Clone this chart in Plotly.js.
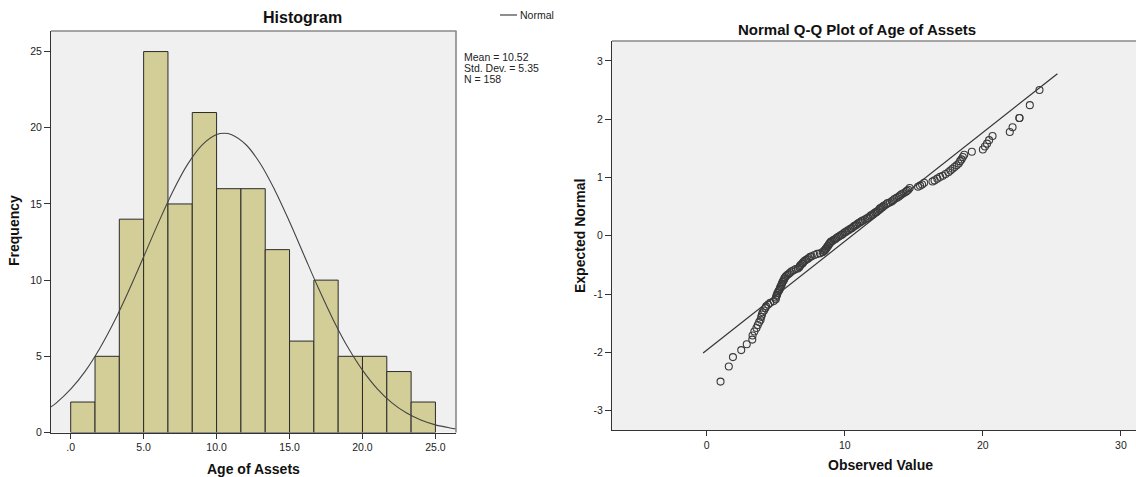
<!DOCTYPE html>
<html><head><meta charset="utf-8">
<script src="https://cdn.plot.ly/plotly-3.0.1.min.js"></script>
<style>html,body{margin:0;padding:0;background:#fff;} #chart{width:1136px;height:477px;}</style>
</head><body><div id="chart"></div>
<script>
// ---------- Histogram data ----------
const binEdges = [0, 1.667, 3.333, 5, 6.667, 8.333, 10, 11.667, 13.333, 15, 16.667, 18.333, 20, 21.667, 23.333, 25];
const binCounts = [2, 5, 14, 25, 15, 21, 16, 16, 12, 6, 10, 5, 5, 4, 2];
const normalCurveX = [-1.35, -1, 0, 1, 2, 3, 4, 5, 6, 7, 8, 9, 10, 10.52, 11, 12, 13, 14, 15, 16, 17, 18, 19, 20, 21, 22, 23, 24, 25, 26, 26.41];
const normalCurveY = [1.68, 1.93, 2.84, 4.03, 5.53, 7.31, 9.35, 11.53, 13.74, 15.82, 17.58, 18.86, 19.55, 19.64, 19.56, 18.90, 17.64, 15.89, 13.83, 11.62, 9.43, 7.39, 5.59, 4.09, 2.88, 1.96, 1.29, 0.82, 0.50, 0.30, 0.24];
const statsLabels = ["Mean = 10.52", "Std. Dev. = 5.35", "N = 158"];
const histXTickVals = [0, 5, 10, 15, 20, 25];
const histXTickText = [".0", "5.0", "10.0", "15.0", "20.0", "25.0"];
const histYTickVals = [0, 5, 10, 15, 20, 25];
const histYTickText = ["0", "5", "10", "15", "20", "25"];

// ---------- Q-Q data ----------
const qqObserved = [
  1.0, 1.6, 1.9, 2.5, 2.9, 3.3, 3.32, 3.45, 3.6, 3.7,
  3.8, 3.9, 3.95, 4.0, 4.05, 4.15, 4.25, 4.3, 4.45, 4.6,
  4.85, 5.0, 5.02, 5.05, 5.1, 5.12, 5.2, 5.25, 5.3, 5.33,
  5.38, 5.42, 5.45, 5.5, 5.55, 5.6, 5.63, 5.68, 5.75, 5.85,
  5.95, 6.05, 6.15, 6.3, 6.45, 6.6, 6.7, 6.75, 6.8, 6.9,
  6.95, 7.0, 7.1, 7.2, 7.3, 7.4, 7.5, 7.6, 7.8, 8.0,
  8.2, 8.4, 8.5, 8.55, 8.6, 8.65, 8.7, 8.75, 8.8, 8.85,
  8.9, 8.95, 9.0, 9.1, 9.2, 9.3, 9.4, 9.5, 9.6, 9.7,
  9.8, 9.9, 10.0, 10.1, 10.2, 10.3, 10.4, 10.5, 10.6, 10.7,
  10.8, 10.9, 11.0, 11.1, 11.2, 11.3, 11.45, 11.6, 11.7, 11.8,
  11.9, 12.0, 12.1, 12.2, 12.3, 12.4, 12.5, 12.55, 12.65, 12.75,
  12.85, 13.0, 13.1, 13.25, 13.4, 13.5, 13.6, 13.75, 13.9, 14.0,
  14.1, 14.25, 14.4, 14.5, 14.6, 14.7, 15.3, 15.45, 15.6, 15.75,
  16.35, 16.5, 16.7, 16.9, 17.1, 17.3, 17.5, 17.65, 17.8, 17.95,
  18.1, 18.25, 18.35, 18.45, 18.55, 18.65, 19.2, 20.0, 20.15, 20.3,
  20.45, 20.7, 21.95, 22.15, 22.65, 22.65, 23.4, 24.1
];
const qqExpected = [
  -2.50, -2.24, -2.08, -1.96, -1.86, -1.78, -1.71, -1.64, -1.58, -1.53,
  -1.48, -1.44, -1.39, -1.35, -1.31, -1.28, -1.24, -1.21, -1.18, -1.15,
  -1.12, -1.09, -1.06, -1.03, -1.01, -0.98, -0.95, -0.93, -0.91, -0.88,
  -0.86, -0.84, -0.82, -0.79, -0.77, -0.75, -0.73, -0.71, -0.69, -0.67,
  -0.65, -0.63, -0.61, -0.59, -0.57, -0.56, -0.54, -0.52, -0.50, -0.48,
  -0.47, -0.45, -0.43, -0.41, -0.40, -0.38, -0.36, -0.35, -0.33, -0.31,
  -0.30, -0.28, -0.26, -0.25, -0.23, -0.22, -0.20, -0.18, -0.17, -0.15,
  -0.13, -0.12, -0.10, -0.09, -0.07, -0.06, -0.04, -0.02, -0.01, 0.01,
  0.02, 0.04, 0.06, 0.07, 0.09, 0.10, 0.12, 0.13, 0.15, 0.17,
  0.18, 0.20, 0.22, 0.23, 0.25, 0.26, 0.28, 0.30, 0.31, 0.33,
  0.35, 0.36, 0.38, 0.40, 0.41, 0.43, 0.45, 0.47, 0.48, 0.50,
  0.52, 0.54, 0.56, 0.57, 0.59, 0.61, 0.63, 0.65, 0.67, 0.69,
  0.71, 0.73, 0.75, 0.77, 0.79, 0.82, 0.84, 0.86, 0.88, 0.91,
  0.93, 0.95, 0.98, 1.01, 1.03, 1.06, 1.09, 1.12, 1.15, 1.18,
  1.21, 1.24, 1.28, 1.31, 1.35, 1.39, 1.44, 1.48, 1.53, 1.58,
  1.64, 1.71, 1.78, 1.86, 2.02, 2.02, 2.24, 2.50
];
const qqLineX = [-0.26, 25.4];
const qqLineY = [-2.01, 2.78];
const qqXTickVals = [0, 10, 20, 30];
const qqXTickText = ["0", "10", "20", "30"];
const qqYTickVals = [-3, -2, -1, 0, 1, 2, 3];
const qqYTickText = ["-3", "-2", "-1", "0", "1", "2", "3"];

// ---------- layout helpers ----------
const W = 1136, H = 477;
const px = v => v / W;
const py = v => 1 - v / H;
const FONT = "Liberation Sans, Arial, sans-serif";
const INK = "#222222";

const binCenters = binCounts.map((_, i) => (binEdges[i] + binEdges[i + 1]) / 2);
const binWidths = binCounts.map((_, i) => binEdges[i + 1] - binEdges[i]);

const traces = [
  {
    type: "bar", x: binCenters, y: binCounts, width: binWidths,
    marker: { color: "#D3CE97", line: { color: "#2a2a2a", width: 1 } },
    xaxis: "x", yaxis: "y", hoverinfo: "x+y", showlegend: false
  },
  {
    type: "scatter", mode: "lines", x: normalCurveX, y: normalCurveY,
    line: { color: "#444444", width: 1.1, shape: "spline" },
    xaxis: "x", yaxis: "y", name: "Normal", showlegend: false
  },
  {
    type: "scatter", mode: "lines", x: qqLineX, y: qqLineY,
    line: { color: "#333333", width: 1.2 },
    xaxis: "x2", yaxis: "y2", showlegend: false
  },
  {
    type: "scatter", mode: "markers", x: qqObserved, y: qqExpected,
    marker: { symbol: "circle-open", size: 7, color: "#3a3a3a", line: { width: 1.1, color: "#3a3a3a" } },
    xaxis: "x2", yaxis: "y2", showlegend: false
  }
];

const axisBase = {
  showgrid: false, zeroline: false, showline: true, linecolor: "#333333", linewidth: 1,
  ticks: "outside", tickcolor: "#333333", tickwidth: 1,
  tickfont: { family: FONT, size: 10.5, color: INK }, fixedrange: true
};

function ann(text, x, y, opts) {
  return Object.assign({
    text: text, x: px(x), y: py(y), xref: "paper", yref: "paper",
    showarrow: false, xanchor: "center", yanchor: "middle",
    font: { family: FONT, size: 10.5, color: INK }
  }, opts || {});
}
const titleFont = { family: FONT, size: 16, color: "#111111", weight: 700 };
const qqTitleFont = { family: FONT, size: 15, color: "#111111", weight: 700 };
const axTitleFont = { family: FONT, size: 14, color: "#111111", weight: 700 };

const layout = {
  width: W, height: H,
  margin: { l: 0, r: 0, t: 0, b: 0 },
  paper_bgcolor: "#ffffff",
  plot_bgcolor: "#F0F0F0",
  showlegend: false,
  bargap: 0,
  xaxis: Object.assign({}, axisBase, {
    domain: [px(51), px(456)], range: [-1.35, 26.41],
    tickvals: histXTickVals, ticktext: histXTickText, ticklen: 5, anchor: "y"
  }),
  yaxis: Object.assign({}, axisBase, {
    domain: [py(432.5), py(31)], range: [0, 26.35],
    tickvals: histYTickVals, ticktext: histYTickText, ticklen: 6, anchor: "x"
  }),
  xaxis2: Object.assign({}, axisBase, {
    domain: [px(612), 1], range: [-6.86, 31.09],
    tickvals: qqXTickVals, ticktext: qqXTickText, ticklen: 5, anchor: "y2"
  }),
  yaxis2: Object.assign({}, axisBase, {
    domain: [py(430), py(41)], range: [-3.33, 3.34],
    tickvals: qqYTickVals, ticktext: qqYTickText, ticklen: 6, anchor: "x2"
  }),
  shapes: [
    { type: "line", xref: "paper", yref: "paper", x0: px(51), x1: px(456.5), y0: py(31), y1: py(31), line: { color: "#8a8a8a", width: 1.6 } },
    { type: "line", xref: "paper", yref: "paper", x0: px(456), x1: px(456), y0: py(31), y1: py(432.5), line: { color: "#8a8a8a", width: 1.6 } },
    { type: "line", xref: "paper", yref: "paper", x0: px(612), x1: px(1140), y0: py(41), y1: py(41), line: { color: "#8a8a8a", width: 1.6 } },
    { type: "line", xref: "paper", yref: "paper", x0: px(500), x1: px(517), y0: py(15), y1: py(15), line: { color: "#444444", width: 1.2 } }
  ],
  annotations: [
    ann("Histogram", 302, 18, { font: titleFont }),
    ann("Normal Q-Q Plot of Age of Assets", 857, 30, { font: qqTitleFont }),
    ann("Frequency", 14, 231, { font: axTitleFont, textangle: -90 }),
    ann("Age of Assets", 253.5, 469, { font: axTitleFont }),
    ann("Expected Normal", 580, 236, { font: axTitleFont, textangle: -90 }),
    ann("Observed Value", 880, 465, { font: axTitleFont }),
    ann("Normal", 518, 15, { xanchor: "left" }),
    ann(statsLabels[0], 462, 57, { xanchor: "left" }),
    ann(statsLabels[1], 462, 68, { xanchor: "left" }),
    ann(statsLabels[2], 462, 79, { xanchor: "left" })
  ]
};

Plotly.newPlot("chart", traces, layout, { displayModeBar: false, staticPlot: true });
</script>
</body></html>
